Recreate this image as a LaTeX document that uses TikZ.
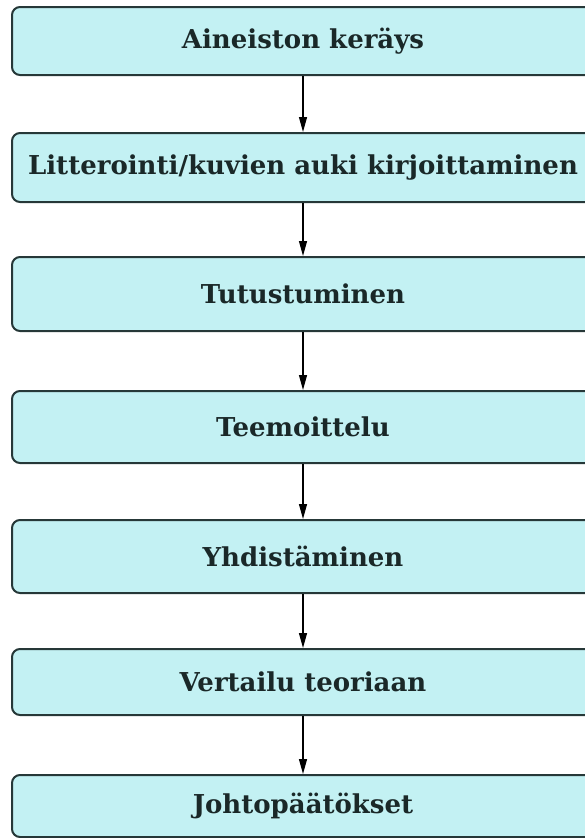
\documentclass[tikz,border=0pt]{standalone}
\usepackage{fontspec}
\setmainfont{DejaVu Serif}
\usetikzlibrary{arrows.meta}
\definecolor{boxfill}{HTML}{C3F1F3}
\definecolor{boxline}{HTML}{263838}
\definecolor{txtcol}{HTML}{1A2828}
\begin{document}
\begin{tikzpicture}[x=1pt,y=-1pt,
  stepbox/.style={draw=boxline, line width=2pt, fill=boxfill, rounded corners=8pt,
    minimum width=582pt, minimum height=#1, inner sep=0pt, text=txtcol,
    font=\fontsize{26pt}{30pt}\selectfont\bfseries},
  arr/.style={draw=black, line width=1.2pt, -{Triangle[length=15pt,width=8pt]}}]
\useasboundingbox (0,0) rectangle (585,838);
\clip (0,0) rectangle (585,838);
\node[stepbox=68pt] (b1) at (303,41) {Aineiston keräys};
\node[stepbox=69pt] (b2) at (303,167.5) {Litterointi/kuvien auki kirjoittaminen};
\node[stepbox=74pt] (b3) at (303,294) {Tutustuminen};
\node[stepbox=72pt] (b4) at (303,427) {Teemoittelu};
\node[stepbox=73pt] (b5) at (303,556.5) {Yhdistäminen};
\node[stepbox=66pt] (b6) at (303,682) {Vertailu teoriaan};
\node[stepbox=62pt] (b7) at (303,806) {Johtopäätökset};
\draw[arr] (b1.south) -- (b2.north);
\draw[arr] (b2.south) -- (b3.north);
\draw[arr] (b3.south) -- (b4.north);
\draw[arr] (b4.south) -- (b5.north);
\draw[arr] (b5.south) -- (b6.north);
\draw[arr] (b6.south) -- (b7.north);
\end{tikzpicture}
\end{document}
